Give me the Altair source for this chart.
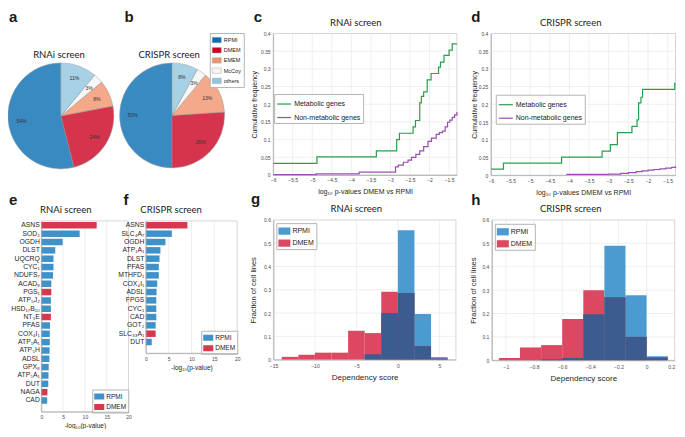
import altair as alt
import pandas as pd

W, H = 669, 421
SX, SY = 669 / 683, 421 / 437


def px(v):
    return (v - 1) * SX


def py(v):
    return (v - 0) * SY


FONT = "Liberation Sans"
TFONT = "Lato"

# ---------------- data ----------------
media = ["RPMI", "DMEM", "EMEM", "McCoy", "others"]
pie_order = [4, 3, 2, 1, 0]
rnai_share = [54, 24, 8, 3, 11]
crispr_share = [50, 26, 13, 3, 8]

genesets = ["Metabolic genes", "Non-metabolic genes"]
c_met_x = [-6.0, -4.88, -3.36, -2.84, -2.77, -2.42, -2.36, -2.25, -2.21, -2.15, -2.06, -1.96, -1.77, -1.72, -1.63, -1.50, -1.42, -1.30]
c_met_y = [0.033, 0.051, 0.068, 0.100, 0.118, 0.136, 0.154, 0.204, 0.222, 0.235, 0.269, 0.287, 0.305, 0.319, 0.338, 0.353, 0.371, 0.371]
c_non_x = [-6.0, -4.9, -3.8, -2.87, -2.8, -2.67, -2.55, -2.46, -2.35, -2.25, -2.15, -2.04, -1.95, -1.83, -1.75, -1.67, -1.6, -1.54, -1.48, -1.42, -1.36, -1.3]
c_non_y = [0.001, 0.003, 0.008, 0.023, 0.028, 0.036, 0.042, 0.05, 0.058, 0.068, 0.08, 0.095, 0.104, 0.115, 0.12, 0.124, 0.136, 0.149, 0.155, 0.163, 0.17, 0.178]
d_met_x = [-6.0, -5.68, -4.20, -3.17, -2.96, -2.78, -2.41, -2.28, -2.24, -2.18, -2.14, -1.32, -1.30]
d_met_y = [0.017, 0.034, 0.051, 0.068, 0.086, 0.120, 0.138, 0.156, 0.204, 0.220, 0.242, 0.259, 0.259]
d_non_x = [-4.08, -3.5, -3.0, -2.7, -2.5, -2.3, -2.15, -2.0, -1.85, -1.7, -1.55, -1.4, -1.3]
d_non_y = [0.002, 0.002, 0.003, 0.005, 0.007, 0.010, 0.012, 0.014, 0.016, 0.018, 0.020, 0.022, 0.025]
cdf_xticks = [-6, -5.5, -5, -4.5, -4, -3.5, -3, -2.5, -2, -1.5]
cdf_yticks = [0, 0.05, 0.1, 0.15, 0.2, 0.25, 0.3, 0.35, 0.4]

e_genes = ["ASNS", "SOD₂", "OGDH", "DLST", "UQCRQ", "CYC₁", "NDUFS₇", "ACAD₉", "PGS₁", "ATP₅J₂", "HSD₁₇B₁₀",
           "NT₅E", "PFAS", "COX₄I₁", "ATP₁A₁", "ATP₅H", "ADSL", "GPX₈", "ATP₅A₁", "DUT", "NAGA", "CAD"]
e_vals = [12.7, 8.8, 4.9, 3.2, 2.8, 2.8, 2.7, 2.3, 2.3, 2.2, 2.2, 2.2, 2.0, 1.95, 1.95, 1.9, 1.85, 1.7, 1.65, 1.6, 1.4, 1.35]
e_media = ["DMEM", "RPMI", "RPMI", "RPMI", "RPMI", "RPMI", "RPMI", "RPMI", "DMEM", "RPMI", "RPMI",
           "DMEM", "RPMI", "RPMI", "RPMI", "RPMI", "RPMI", "RPMI", "RPMI", "RPMI", "DMEM", "RPMI"]
f_genes = ["ASNS", "SLC₄A₇", "OGDH", "ATP₁A₁", "DLST", "PFAS", "MTHFD₁", "COX₄I₁", "ADSL", "FPGS", "CYC₁",
           "CAD", "GOT₂", "SLC₃₃A₁", "DUT"]
f_vals = [9.1, 5.7, 4.3, 3.2, 3.0, 2.85, 2.85, 2.5, 2.35, 2.3, 2.3, 2.3, 2.15, 2.15, 1.3]
f_media = ["DMEM", "RPMI", "RPMI", "RPMI", "RPMI", "RPMI", "RPMI", "RPMI", "RPMI", "RPMI", "RPMI",
           "RPMI", "RPMI", "DMEM", "RPMI"]
bar_xticks = [0, 5, 10, 15, 20]

g_left = [-14, -12, -10, -8, -6, -4, -2, 0, 2, 4]
g_width = 2
g_dmem = [0.012, 0.021, 0.03, 0.03, 0.124, 0.114, 0.292, 0.286, 0.058, 0.004]
g_rpmi = [0, 0, 0, 0, 0, 0.023, 0.2, 0.556, 0.196, 0.011]
g_xticks = [-15, -10, -5, 0, 5]
h_left = [-1.05, -0.9, -0.75, -0.6, -0.45, -0.3, -0.15, 0]
h_width = 0.15
h_dmem = [0.01, 0.055, 0.065, 0.177, 0.30, 0.27, 0.10, 0.012]
h_rpmi = [0, 0, 0.004, 0.01, 0.197, 0.49, 0.278, 0.017]
h_xticks = [-1, -0.8, -0.6, -0.4, -0.2, 0, 0.2]
hist_yticks = [0, 0.1, 0.2, 0.3, 0.4, 0.5, 0.6]

# ---------------- styles ----------------
PIE_COLORS = ["#096eb3", "#cc0120", "#f1946d", "#f5f5f5", "#92c6de"]
GREEN, PURPLE = "#2b9d4d", "#9b4db2"
BLUE, RED = "#3f91c9", "#d7374f"
HBLUE, HRED, HOV = "#4b9bd0", "#dc4862", "#3c5b8e"
GRID, FRAME = "#e4e4e4", "#c4c4c4"
RECT = "M-1,-0.6L1,-0.6L1,0.6L-1,0.6Z"

AX = dict(grid=False, ticks=False, labelFont=FONT, labelColor="#4a4a4a", domainColor="#a0a0a0",
          domainWidth=0.7, titleFont=FONT, titleFontWeight="normal", titleColor="#262626",
          labelOverlap=False, zindex=1)


def xaxis(bottom, values, title, lsize=5, tsize=7, lpad=3, tpad=4, fmt="~g", flush=False):
    return alt.Axis(orient="bottom", offset=py(bottom) - H, values=values, format=fmt, title=title,
                    labelFontSize=lsize, titleFontSize=tsize, labelPadding=lpad, titlePadding=tpad,
                    labelFlush=flush, **AX)


def yaxis(left, values, title, lsize=5, tsize=7, lpad=3, tpad=3, fmt="~g"):
    return alt.Axis(orient="left", offset=-px(left), values=values, format=fmt, title=title,
                    labelFontSize=lsize, titleFontSize=tsize, labelPadding=lpad, titlePadding=tpad,
                    labelFlush=False, **AX)


def one():
    return pd.DataFrame({"k": [0]})


def text_mark(txt, x, y, size, font=TFONT, weight="normal", align="center", baseline="middle", color="#1a1a1a"):
    return alt.Chart(pd.DataFrame({"t": [txt]})).mark_text(
        font=font, fontSize=size, fontWeight=weight, align=align, baseline=baseline, color=color
    ).encode(text="t:N", x=alt.value(px(x)), y=alt.value(py(y)))


def legend(x, y, sym, size, fs, rowpad, **kw):
    return alt.Legend(orient="none", legendX=px(x), legendY=py(y), title=None, symbolType=sym,
                      symbolSize=size, labelFontSize=fs, labelFont=FONT, labelColor="#1a1a1a",
                      rowPadding=rowpad, padding=2, strokeColor="#b4b4b4", fillColor="white",
                      cornerRadius=0, labelOffset=2, **kw)


def vgrid(vals, xs, ys, xa, ya, y0, y1):
    return alt.Chart(pd.DataFrame({"v": vals})).mark_rule(color=GRID, strokeWidth=0.6).encode(
        x=alt.X("v:Q", scale=xs, axis=xa),
        y=alt.YDatum(y0, scale=ys, axis=ya), y2=alt.Y2Datum(y1))


def hgrid(vals, xs, ys, xa, ya, x0, x1):
    return alt.Chart(pd.DataFrame({"v": vals})).mark_rule(color=GRID, strokeWidth=0.6).encode(
        y=alt.Y("v:Q", scale=ys, axis=ya),
        x=alt.XDatum(x0, scale=xs, axis=xa), x2=alt.X2Datum(x1))


def frame(xs, ys, xa, ya, x0, x1, y0, y1):
    return alt.Chart(one()).mark_rect(fillOpacity=0, stroke=FRAME, strokeWidth=0.7).encode(
        x=alt.XDatum(x0, scale=xs, axis=xa), x2=alt.X2Datum(x1),
        y=alt.YDatum(y0, scale=ys, axis=ya), y2=alt.Y2Datum(y1))


# ---------------- panels ----------------
def pie_panel(share, cx, cy, r, leg):
    df = pd.DataFrame({"medium": media, "share": share, "ord": pie_order, "lab": [f"{s}%" for s in share]})
    base = alt.Chart(df).encode(
        theta=alt.Theta("share:Q", stack=True),
        order=alt.Order("ord:Q", sort="ascending"),
        x=alt.value(px(cx)), y=alt.value(py(cy)),
    )
    arcs = base.mark_arc(outerRadius=r, stroke="#8a8a8a", strokeWidth=0.5, opacity=0.8).encode(
        color=alt.Color("medium:N", scale=alt.Scale(domain=media, range=PIE_COLORS), legend=leg))
    labs = base.mark_text(radius=r * 0.75, fontSize=5, font=FONT, color="#333333").encode(text="lab:N")
    return alt.layer(arcs, labs)


def cdf_panel(met_x, met_y, non_x, non_y, L, R, T, B, leg, tpad):
    xs = alt.Scale(domain=[-6, -1.3], range=[px(L), px(R)], nice=False, zero=False)
    ys = alt.Scale(domain=[0, 0.4], range=[py(B), py(T)], nice=False, zero=False)
    xa = xaxis(B, cdf_xticks, "log₁₀ p-values DMEM vs RPMI", tpad=5)
    ya = yaxis(L, cdf_yticks, "Cumulative frequency", tpad=tpad)
    df = pd.concat([
        pd.DataFrame({"x": met_x, "y": met_y, "g": genesets[0]}),
        pd.DataFrame({"x": non_x, "y": non_y, "g": genesets[1]}),
    ])
    lines = alt.Chart(df).mark_line(interpolate="step-after", strokeWidth=1.2).encode(
        x=alt.X("x:Q", scale=xs, axis=xa),
        y=alt.Y("y:Q", scale=ys, axis=ya),
        color=alt.Color("g:N", scale=alt.Scale(domain=genesets, range=[GREEN, PURPLE]), legend=leg),
    )
    return alt.layer(
        vgrid(cdf_xticks[1:], xs, ys, xa, ya, 0, 0.4),
        hgrid(cdf_yticks[1:-1], xs, ys, xa, ya, -6, -1.3),
        frame(xs, ys, xa, ya, -6, -1.3, 0, 0.4),
        lines,
    )


def bar_panel(genes, vals, med, L, R, T, B, leg):
    xs = alt.Scale(domain=[0, 20], range=[px(L), px(R)], nice=False)
    ys = alt.Scale(domain=genes, range=[py(T), py(B)], paddingInner=0.22, paddingOuter=0.545, align=0.13)
    xa = xaxis(B, bar_xticks, "-log₁₀(p-value)", tsize=6.5, lpad=3, tpad=3)
    df = pd.DataFrame({"gene": genes, "v": vals, "m": med})
    bars = alt.Chart(df).mark_bar().encode(
        x=alt.X("v:Q", scale=xs, axis=xa),
        y=alt.Y("gene:N", scale=ys, sort=None,
                axis=alt.Axis(orient="left", offset=-px(L), title=None, labelFontSize=6.8, labelPadding=2,
                              labelColor="#262626", labelFont=FONT, grid=False, ticks=False,
                              domainColor="#a0a0a0", domainWidth=0.7, labelOverlap=False, zindex=1)),
        color=alt.Color("m:N", scale=alt.Scale(domain=["RPMI", "DMEM"], range=[BLUE, RED]), legend=leg),
    )
    grid = alt.Chart(pd.DataFrame({"v": bar_xticks[1:-1]})).mark_rule(color=GRID, strokeWidth=0.6).encode(
        x=alt.X("v:Q", scale=xs, axis=xa), y=alt.value(py(T)), y2=alt.value(py(B)))
    box = alt.Chart(one()).mark_rect(fillOpacity=0, stroke=FRAME, strokeWidth=0.7).encode(
        x=alt.XDatum(0, scale=xs, axis=xa), x2=alt.X2Datum(20), y=alt.value(py(T)), y2=alt.value(py(B)))
    return alt.layer(grid, box, bars)


def hist_panel(lefts, width, dmem, rpmi, xdom, xticks, L, R, T, B, leg, tpad, flush=False):
    df = pd.DataFrame({"lo": lefts, "hi": [v + width for v in lefts], "RPMI": rpmi, "DMEM": dmem})
    xs = alt.Scale(domain=xdom, range=[px(L), px(R)], nice=False, zero=False)
    ys = alt.Scale(domain=[0, 0.6], range=[py(B), py(T)], nice=False, zero=False)
    xa = xaxis(B, xticks, "Dependency score", tsize=8, lpad=4, tpad=5, flush=flush)
    ya = yaxis(L, hist_yticks, "Fraction of cell lines", tsize=7.5, tpad=tpad)
    bars = alt.Chart(df).transform_fold(["RPMI", "DMEM"], as_=["medium", "frac"]).mark_rect().encode(
        x=alt.X("lo:Q", scale=xs, axis=xa),
        x2="hi:Q",
        y=alt.Y("frac:Q", scale=ys, axis=ya),
        y2=alt.Y2Datum(0),
        color=alt.Color("medium:N", scale=alt.Scale(domain=["RPMI", "DMEM"], range=[HBLUE, HRED]), legend=leg),
    )
    ov = alt.Chart(df).transform_calculate(ov="min(datum.RPMI, datum.DMEM)").mark_rect(color=HOV).encode(
        x=alt.X("lo:Q", scale=xs, axis=xa), x2="hi:Q",
        y=alt.Y("ov:Q", scale=ys, axis=ya), y2=alt.Y2Datum(0))
    inner = [t for t in xticks if xdom[0] < t < xdom[1]]
    return alt.layer(
        vgrid(inner, xs, ys, xa, ya, 0, 0.6),
        hgrid(hist_yticks[1:-1], xs, ys, xa, ya, xdom[0], xdom[1]),
        frame(xs, ys, xa, ya, xdom[0], xdom[1], 0, 0.6),
        bars, ov,
    )


pie_a = pie_panel(rnai_share, 55, 112, 53, None)
pie_b = pie_panel(crispr_share, 168.5, 111.5, 52.5,
                  legend(207, 26, RECT, 81, 5.5, 1.2, symbolOpacity=1, symbolStrokeColor="#9a9a9a",
                         symbolStrokeWidth=0.4))
panel_c = cdf_panel(c_met_x, c_met_y, c_non_x, c_non_y, 271.7, 459.3, 26.5, 173.3,
                    legend(272.7, 89.3, "stroke", 196, 7, 2.5, symbolStrokeWidth=1.2), 3)
panel_d = cdf_panel(d_met_x, d_met_y, d_non_x, d_non_y, 494, 682.5, 26.5, 173.5,
                    legend(499, 90, "stroke", 196, 7, 2.5, symbolStrokeWidth=1.2), 1)
panel_e = bar_panel(e_genes, e_vals, e_media, 35, 124, 221, 419,
                    legend(87, 396, RECT, 100, 6.5, 1.5, symbolStrokeWidth=0))
panel_f = bar_panel(f_genes, f_vals, f_media, 141.7, 235, 221, 358.3,
                    legend(198.3, 335, RECT, 100, 6.5, 1.5, symbolStrokeWidth=0))
panel_g = hist_panel(g_left, g_width, g_dmem, g_rpmi, [-15, 7], g_xticks, 272, 458.3, 220, 365,
                     legend(275, 223.3, RECT, 144, 7, 2, symbolStrokeWidth=0), 6)
panel_h = hist_panel(h_left, h_width, h_dmem, h_rpmi, [-1.1, 0.2], h_xticks, 495, 681.7, 220, 365.7,
                     legend(498, 224, RECT, 144, 7, 2, symbolStrokeWidth=0), 4, flush=True)

LET = 15
texts = [
    text_mark("a", 2, 14.5, LET, FONT, "bold", "left", "alphabetic"),
    text_mark("b", 120, 14.5, LET, FONT, "bold", "left", "alphabetic"),
    text_mark("c", 252, 14.5, LET, FONT, "bold", "left", "alphabetic"),
    text_mark("d", 474, 14.5, LET, FONT, "bold", "left", "alphabetic"),
    text_mark("e", 2, 204.5, LET, FONT, "bold", "left", "alphabetic"),
    text_mark("f", 119, 204.5, LET, FONT, "bold", "left", "alphabetic"),
    text_mark("g", 249, 203.5, LET, FONT, "bold", "left", "alphabetic"),
    text_mark("h", 474, 204.5, LET, FONT, "bold", "left", "alphabetic"),
    text_mark("RNAi screen", 53, 49, 9.5),
    text_mark("CRISPR screen", 165.5, 48.5, 9.5),
    text_mark("RNAi screen", 356, 15.5, 9.5),
    text_mark("CRISPR screen", 575.5, 15.5, 9.5),
    text_mark("RNAi screen", 60, 209.5, 9.5),
    text_mark("CRISPR screen", 167.5, 209.5, 9.5),
    text_mark("RNAi screen", 356.5, 209, 9.5),
    text_mark("CRISPR screen", 575.5, 209, 9.5),
]

chart = alt.layer(
    pie_a, pie_b, panel_c, panel_d, panel_e, panel_f, panel_g, panel_h, *texts
).resolve_scale(
    x="independent", y="independent", color="independent", theta="independent"
).resolve_axis(
    x="independent", y="independent"
).resolve_legend(
    color="independent"
).properties(
    width=W, height=H, padding=0, autosize=alt.AutoSizeParams(type="none"),
    background="white",
).configure_view(stroke=None)

chart.save("out.html", embed_options={"renderer": "svg", "actions": False})
